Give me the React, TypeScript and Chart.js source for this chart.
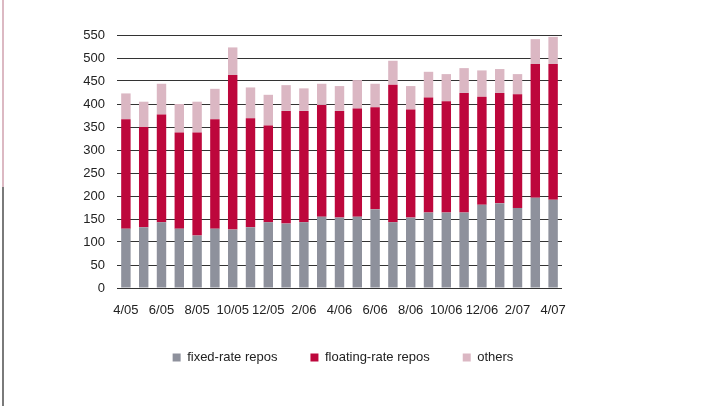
import React, { useEffect, useRef } from "react";
import { Chart, registerables } from "chart.js";

Chart.register(...registerables);

const months = [
  "4/05", "5/05", "6/05", "7/05", "8/05", "9/05", "10/05", "11/05", "12/05",
  "1/06", "2/06", "3/06", "4/06", "5/06", "6/06", "7/06", "8/06", "9/06", "10/06", "11/06", "12/06",
  "1/07", "2/07", "3/07", "4/07",
];

const fixedRate = [129, 132, 143, 129, 114, 129, 127, 132, 143, 140, 143, 155, 153, 155, 171, 143, 153, 164, 164, 164, 181, 184, 174, 196, 192];
const floatingRate = [238, 218, 234, 209, 224, 238, 336, 237, 210, 245, 242, 243, 232, 235, 222, 299, 235, 250, 242, 260, 235, 240, 247, 291, 295];
const others = [56, 55, 67, 62, 67, 66, 60, 67, 67, 56, 49, 46, 54, 62, 51, 52, 51, 56, 59, 54, 57, 52, 44, 54, 59];

const yMin = 0;
const yMax = 550;
const yStep = 50;

const FONT = "'Liberation Sans', Arial, sans-serif";

export default function App() {
  const ref = useRef<HTMLCanvasElement | null>(null);

  useEffect(() => {
    document.body.style.margin = "0";
    const canvas = ref.current;
    if (!canvas) return;
    const chart = new Chart(canvas, {
      type: "bar",
      data: {
        labels: months,
        datasets: [
          { label: "fixed-rate repos", data: fixedRate, backgroundColor: "#8e919c" },
          { label: "floating-rate repos", data: floatingRate, backgroundColor: "#bd073c" },
          { label: "others", data: others, backgroundColor: "#dbb7c3" },
        ],
      },
      options: {
        responsive: false,
        animation: false,
        layout: { padding: { top: 35, right: 0, bottom: 32, left: 0 } },
        datasets: { bar: { barPercentage: 0.53, categoryPercentage: 1 } },
        plugins: {
          tooltip: { enabled: false },
          legend: {
            position: "bottom",
            labels: {
              boxWidth: 8,
              boxHeight: 8,
              padding: 33,
              color: "#222",
              font: { family: FONT, size: 13 },
            },
          },
        },
        scales: {
          x: {
            stacked: true,
            grid: { display: false, drawTicks: false },
            border: { display: false },
            ticks: {
              autoSkip: false,
              maxRotation: 0,
              padding: 16,
              color: "#222",
              font: { family: FONT, size: 13, lineHeight: 1 },
              callback: (_v: any, i: number) => (i % 2 === 0 ? months[i] : ""),
            },
            afterFit: (s: any) => { s.height = 30; },
          },
          y: {
            stacked: true,
            min: yMin,
            max: yMax,
            grid: { color: "#333", lineWidth: 1, drawTicks: false },
            border: { display: false },
            ticks: {
              stepSize: yStep,
              padding: 12,
              color: "#222",
              font: { family: FONT, size: 13 },
            },
            afterFit: (s: any) => { s.width = 117; },
          },
          spacer: {
            type: "linear",
            position: "right",
            display: true,
            grid: { display: false, drawTicks: false },
            border: { display: false },
            ticks: { display: false },
            afterFit: (s: any) => { s.width = 124; },
          },
        },
      },
    });
    return () => chart.destroy();
  }, []);

  return (
    <div style={{ position: "fixed", left: 0, top: 0, width: 725, height: 406, background: "#fff" }}>
      <div style={{ position: "absolute", left: 2, top: 0, width: 2, height: 187, background: "#dcb9c3" }} />
      <div style={{ position: "absolute", left: 2, top: 187, width: 2, height: 219, background: "#7a7a7a" }} />
      <canvas ref={ref} width={686} height={406} style={{ position: "absolute", left: 0, top: 0 }} />
    </div>
  );
}
